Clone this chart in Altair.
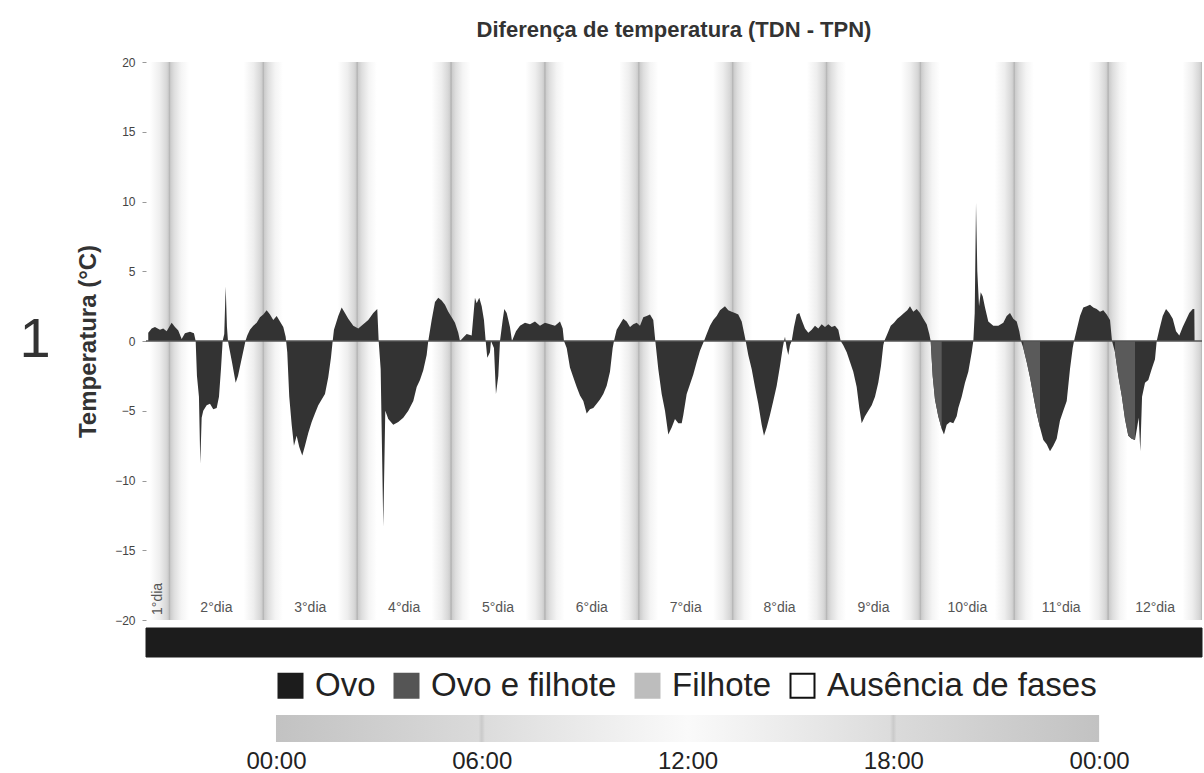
import altair as alt
import pandas as pd

# Diferença TDN - TPN (°C); horas contadas a partir da primeira meia-noite
horas = [
    -5.42, -4.55, -3.71, -2.43, -1.59, -0.72, 0.56, 1.41, 2.25, 3.12, 3.96, 5.24, 6.26, 6.70,
    7.03, 7.54, 7.88, 8.23, 8.64, 9.51, 10.36, 11.20, 12.07, 12.66, 13.17, 13.60,
    14.01, 14.37, 14.70, 14.96, 15.29, 15.98, 16.93, 17.52, 18.28, 19.05, 19.43,
    19.89, 20.58, 21.43, 22.30, 23.14, 23.98, 24.85, 25.70, 26.54, 27.41, 28.25, 29.10, 29.71,
    30.12, 30.63, 31.25, 31.83, 32.52, 33.19, 33.96, 34.65, 35.49, 36.36, 37.20, 38.05, 38.92,
    39.76, 40.60, 41.29, 41.73,
    42.06, 43.16, 44.03, 44.87, 45.72, 47.00, 48.27, 49.55, 50.83, 52.11, 53.13, 53.49,
    54.00, 54.67, 55.18, 55.95, 57.22, 58.50, 59.78, 61.06, 62.34, 63.21, 64.05, 64.89, 65.76, 66.17,
    67.04, 67.89, 68.73, 69.60, 70.44, 71.29, 72.16, 73.00, 73.84, 74.28,
    75.30, 75.99, 77.27, 78.11, 78.55, 79.21, 79.83, 80.41, 80.85, 81.26, 81.95, 82.20,
    82.97, 83.48, 84.07, 84.51, 85.20, 85.61, 86.22, 87.06, 87.57,
    88.60, 89.62, 90.90, 92.18, 93.45, 94.73, 96.01, 97.29, 98.57, 99.85, 100.54, 100.87,
    101.56, 102.40, 103.25, 104.12, 104.96, 105.81, 106.67, 107.52, 108.36, 109.23, 110.07,
    110.92, 111.79, 112.63, 113.32, 113.66,
    114.34, 115.19, 116.03, 116.90, 117.75, 118.59, 119.46, 120.30, 121.15, 122.02, 122.86,
    123.70, 124.22,
    124.98, 125.85, 126.70, 127.54, 128.41, 129.25, 130.10, 130.97, 131.38, 132.24, 133.09,
    133.93, 134.80, 135.64, 136.67,
    137.36, 138.20, 139.04, 139.91, 140.76, 142.03, 142.88, 143.75, 144.59, 145.43, 146.31,
    146.97, 147.33,
    147.99, 148.86, 149.71, 150.55, 151.42, 152.01, 152.70, 153.54, 154.38, 155.26, 156.10,
    156.79, 157.13, 157.38, 157.81, 158.22, 158.66, 159.09,
    159.68, 160.37, 161.03, 161.65, 162.49, 163.34, 164.21, 165.05, 165.89, 166.76, 167.61,
    168.45, 169.32, 170.16, 171.01, 171.62,
    172.28, 173.16, 174.00, 174.84, 175.71, 176.38, 176.99, 177.83, 178.68, 179.55, 180.39,
    181.23, 181.92, 182.51, 182.77,
    183.54, 184.41, 185.25, 186.10, 186.96, 187.81, 188.65, 189.34, 190.18, 191.06, 191.90,
    192.74, 193.61, 194.27, 194.63,
    195.14, 195.73, 196.57, 197.45, 198.03, 198.72, 199.57, 200.41, 201.28, 201.69, 202.56,
    203.40, 204.25, 205.12, 205.53,
    205.89, 206.22, 206.55, 206.99, 207.42, 207.93, 208.52, 209.36, 210.64, 211.92, 213.20,
    214.06, 214.91, 215.75, 216.62, 217.29, 217.72,
    218.31, 219.18, 220.02, 220.87, 221.74, 222.58, 223.43, 224.29, 225.14, 225.98, 226.85,
    227.69, 228.54, 229.41, 230.25, 230.94, 231.28,
    231.96, 232.81, 233.65, 234.52, 235.36, 236.21, 237.08, 237.92, 238.76, 239.63, 240.48, 240.99,
    241.75, 242.60, 243.47, 244.31, 245.16, 246.03, 246.87, 247.82, 248.23, 248.67, 249.43,
    250.27, 251.14, 251.98, 252.42,
    253.08, 253.96, 254.80, 255.64, 256.52, 257.36, 258.20, 259.07, 259.91, 260.75, 261.63,
    262.04, 262.10,
]
diferenca = [
    0.6, 0.9, 1.0, 0.8, 0.9, 0.7, 1.3, 1.0, 0.75, 0.15, 0.55, 0.67, 0.55, 0.0,
    -2.5, -4.0, -8.8, -5.5, -5.0, -4.6, -4.5, -4.9, -4.8, -4.0, -2.0, 0.0,
    0.5, 3.9, 1.0, 0.0, -0.5, -1.5, -3.0, -2.5, -1.5, -0.5, 0.0,
    0.4, 0.8, 1.1, 1.3, 1.7, 1.9, 2.2, 1.9, 1.5, 1.8, 1.4, 1.0, 0.3,
    -0.8, -4.0, -6.0, -7.5, -6.8, -7.6, -8.2, -7.5, -6.6, -5.8, -5.2, -4.6, -4.2,
    -3.8, -2.6, -1.2, 0.0,
    0.8, 1.8, 2.4, 2.0, 1.6, 1.1, 0.9, 1.2, 1.5, 2.0, 2.3, 0.0,
    -2.0, -13.3, -5.0, -5.6, -6.0, -5.8, -5.5, -5.0, -4.3, -3.3, -2.8, -2.1, -1.0, 0.0,
    1.5, 2.8, 3.1, 2.9, 2.6, 2.1, 1.7, 1.3, 0.6, 0.0,
    0.3, 0.5, 0.4, 3.1, 2.7, 3.1, 2.5, 1.5, 0.0, -1.2, -0.8, 0.0,
    -0.5, -3.8, -2.5, 0.0, 1.5, 2.3, 2.0, 1.0, 0.0,
    0.7, 1.1, 1.3, 1.2, 1.4, 1.1, 1.3, 1.2, 1.1, 1.4, 0.9, 0.0,
    -0.5, -1.9, -2.6, -3.3, -3.9, -4.3, -5.2, -4.9, -4.8, -4.5, -4.2,
    -3.8, -3.2, -2.2, -0.5, 0.0,
    0.8, 1.2, 1.6, 1.4, 1.0, 1.2, 1.3, 1.1, 1.7, 1.8, 1.9,
    1.5, 0.0,
    -2.0, -3.8, -5.0, -6.7, -6.2, -5.6, -5.9, -5.9, -5.3, -3.8, -3.1,
    -2.4, -1.5, -0.7, 0.0,
    0.5, 1.1, 1.5, 1.8, 2.2, 2.5, 2.2, 2.1, 2.0, 1.9, 1.4,
    0.5, 0.0,
    -1.0, -2.0, -3.3, -4.5, -6.0, -6.8, -6.2, -5.3, -4.3, -3.2, -1.8,
    -0.5, 0.0, 0.3, -0.5, -1.0, -0.3, 0.0,
    1.0, 1.9, 2.0, 1.5, 0.9, 0.6, 0.8, 1.1, 0.9, 1.2, 1.0,
    1.2, 1.0, 1.1, 0.8, 0.0,
    -0.3, -0.8, -1.5, -2.2, -3.3, -4.8, -5.9, -5.4, -5.0, -4.6, -4.0,
    -3.0, -1.8, -0.3, 0.0,
    0.5, 1.1, 1.3, 1.6, 1.8, 2.0, 2.2, 2.5, 2.1, 2.3, 2.0,
    1.6, 1.2, 0.5, 0.0,
    -2.5, -4.2, -5.4, -6.3, -6.7, -6.0, -5.8, -5.9, -5.4, -4.8, -4.0,
    -3.0, -2.2, -0.8, 0.0,
    2.0, 9.9, 5.0, 2.5, 3.5, 3.2, 2.4, 1.4, 1.1, 1.1, 1.3,
    1.8, 2.0, 1.6, 1.4, 0.7, 0.0,
    -0.5, -1.5, -2.6, -3.9, -5.2, -6.2, -7.1, -7.4, -7.9, -7.5, -7.0,
    -5.7, -5.0, -4.3, -2.0, -0.5, 0.0,
    0.8, 1.8, 2.4, 2.5, 2.6, 2.4, 2.3, 2.1, 2.2, 1.9, 1.5, 0.0,
    -0.8, -2.5, -3.9, -5.6, -6.8, -7.0, -7.1, -5.5, -7.9, -4.0, -3.0,
    -2.8, -2.0, -1.3, 0.0,
    0.8, 1.8, 2.3, 2.0, 1.6, 0.7, 0.4, 1.0, 1.5, 2.0, 2.3,
    2.3, 0.0,
]

# Trechos da série desenhados em tom mais claro (início, fim em horas)
trechos_claros_ini = [194.6, 218.3, 241.7]
trechos_claros_fim = [197.9, 222.6, 247.4]

# Período registrado (horas) e dias de observação
inicio, fim = -6, 264
dias = [f"{n}°dia" for n in range(1, 13)]
meias_noites = list(range(0, 265, 24))

# Fases do ninho
fases = ["Ovo", "Ovo e filhote", "Filhote", "Ausência de fases"]
cores_fases = ["#1c1c1c", "#555555", "#bdbdbd", "#ffffff"]
contorno_fases = ["#1c1c1c", "#555555", "#bdbdbd", "#111111"]
fase_registrada = ["Ovo"]
fase_ini = [-6]
fase_fim = [264]

# Horas do dia na barra de referência
horas_dia = [0, 6, 12, 18, 24]

FONTE = "Liberation Sans, Arial, sans-serif"
W, H = 1056, 558

serie = pd.DataFrame({"hora": horas, "dif": diferenca})
noites = pd.DataFrame({"ini": [m - 5 for m in meias_noites], "fim": [m + 5 for m in meias_noites]})

rot = []
for i, d in enumerate(dias):
    a = max(24 * (i - 1), inicio)
    b = min(24 * i, fim)
    rot.append({"dia": d, "meio": (a + b) / 2, "primeiro": i == 0})
rotulos = pd.DataFrame(rot)

x_sc = alt.Scale(domain=[inicio, fim], nice=False, zero=False)
y_sc = alt.Scale(domain=[-20, 20], nice=False, zero=False)

grad_noite = alt.Gradient(
    gradient="linear", x1=0, x2=1, y1=0, y2=0,
    stops=[
        alt.GradientStop(color="#ffffff", offset=0),
        alt.GradientStop(color="#eeeeee", offset=0.25),
        alt.GradientStop(color="#d8d8d8", offset=0.42),
        alt.GradientStop(color="#cdcdcd", offset=0.47),
        alt.GradientStop(color="#b8b8b8", offset=0.49),
        alt.GradientStop(color="#b8b8b8", offset=0.51),
        alt.GradientStop(color="#cdcdcd", offset=0.53),
        alt.GradientStop(color="#dedede", offset=0.62),
        alt.GradientStop(color="#f4f4f4", offset=0.8),
        alt.GradientStop(color="#ffffff", offset=1),
    ],
)

faixas = alt.Chart(noites).mark_rect(color=grad_noite, clip=True).encode(
    x=alt.X("ini:Q", scale=x_sc, axis=None),
    x2="fim:Q",
)

area = alt.Chart(serie).mark_area(color="#333333", interpolate="linear").encode(
    x=alt.X("hora:Q", scale=x_sc, axis=None),
    y=alt.Y(
        "dif:Q",
        scale=y_sc,
        stack=None,
        title="Temperatura (°C)",
        axis=alt.Axis(
            values=list(range(-20, 21, 5)),
            domain=False,
            grid=False,
            ticks=True,
            tickSize=4,
            tickColor="#999999",
            labelFont=FONTE,
            labelFontSize=12,
            labelColor="#444444",
            labelPadding=7,
            titleFont=FONTE,
            titleFontSize=24,
            titleFontWeight="bold",
            titleColor="#333333",
            titlePadding=14,
        ),
    ),
)

# um trecho claro por camada, cada um com os pontos da própria série
camadas_claras = [
    alt.Chart(serie).transform_filter(
        f"datum.hora >= {a} && datum.hora <= {b}"
    ).mark_area(color="#5a5a5a", interpolate="linear").encode(
        x=alt.X("hora:Q", scale=x_sc, axis=None),
        y=alt.Y("dif:Q", scale=y_sc, stack=None),
    )
    for a, b in zip(trechos_claros_ini, trechos_claros_fim)
]

zero = alt.Chart(pd.DataFrame({"y": [0]})).mark_rule(color="#555555", strokeWidth=1.5).encode(
    y=alt.Y("y:Q", scale=y_sc)
)

rotulos_dias = alt.Chart(rotulos).transform_filter("!datum.primeiro").mark_text(
    font=FONTE, fontSize=14, color="#555555", baseline="middle"
).encode(x=alt.X("meio:Q", scale=x_sc), y=alt.value(546), text="dia:N")

rotulo_dia1 = alt.Chart(rotulos).transform_filter("datum.primeiro").mark_text(
    font=FONTE, fontSize=14, color="#555555", baseline="middle", align="left", angle=270
).encode(x=alt.X("meio:Q", scale=x_sc), y=alt.value(553), text="dia:N")

painel = alt.Chart(pd.DataFrame({"painel": ["1"]})).mark_text(
    font=FONTE, fontSize=56, color="#333333", align="center", baseline="middle"
).encode(x=alt.value(-111), y=alt.value(278), text="painel:N")

principal = alt.layer(
    faixas, area, *camadas_claras, zero, rotulos_dias, rotulo_dia1, painel
).properties(
    width=W,
    height=H,
    title=alt.TitleParams(
        "Diferença de temperatura (TDN - TPN)",
        font=FONTE,
        fontSize=22,
        fontWeight="bold",
        color="#333333",
        anchor="middle",
        frame="group",
        baseline="alphabetic",
        offset=-3,
    ),
)

legenda = alt.Legend(
    title=None,
    orient="none",
    legendX=128,
    legendY=607,
    padding=0,
    direction="horizontal",
    symbolType="square",
    symbolSize=576,
    symbolStrokeWidth=2,
    labelFont=FONTE,
    labelFontSize=33,
    labelColor="#222222",
    labelOffset=8,
    columnPadding=14,
    labelLimit=400,
)

fase_df = pd.DataFrame({"fase": fase_registrada, "ini": fase_ini, "fim": fase_fim})
barra_fases = alt.Chart(fase_df).mark_rect(strokeWidth=1).encode(
    x=alt.X("ini:Q", scale=x_sc, axis=None),
    x2="fim:Q",
    fill=alt.Fill("fase:N", scale=alt.Scale(domain=fases, range=cores_fases), legend=legenda),
    stroke=alt.Stroke("fase:N", scale=alt.Scale(domain=fases, range=contorno_fases), legend=legenda),
).properties(width=W, height=29)

# faixa vazia entre a barra de fases e a barra das horas (ocupada pela legenda)
vazio = alt.Chart(pd.DataFrame({"v": [0]})).mark_rect(opacity=0).encode(
    x=alt.value(0)
).properties(width=W, height=42)

grad_dia = alt.Gradient(
    gradient="linear", x1=0, x2=1, y1=0, y2=0,
    stops=[
        alt.GradientStop(color="#c2c2c2", offset=0),
        alt.GradientStop(color="#dadada", offset=0.246),
        alt.GradientStop(color="#cacaca", offset=0.25),
        alt.GradientStop(color="#dcdcdc", offset=0.254),
        alt.GradientStop(color="#fafafa", offset=0.5),
        alt.GradientStop(color="#dcdcdc", offset=0.746),
        alt.GradientStop(color="#cacaca", offset=0.75),
        alt.GradientStop(color="#dadada", offset=0.754),
        alt.GradientStop(color="#c2c2c2", offset=1),
    ],
)

barra_dia = alt.Chart(pd.DataFrame({"ini": [horas_dia[0]], "fim": [horas_dia[-1]]})).mark_rect(
    color=grad_dia
).encode(
    x=alt.X(
        "ini:Q",
        scale=alt.Scale(domain=[-3.79, 27.0], nice=False, zero=False),
        axis=alt.Axis(
            values=horas_dia,
            labelExpr="(datum.value % 24 < 10 ? '0' : '') + (datum.value % 24) + ':00'",
            domain=False,
            ticks=False,
            grid=False,
            labelFont=FONTE,
            labelFontSize=24,
            labelColor="#222222",
            labelPadding=7,
            title=None,
        ),
    ),
    x2="fim:Q",
).properties(width=W, height=27)

chart = alt.vconcat(principal, barra_fases, vazio, barra_dia, spacing=8, bounds="flush").properties(
    autosize=alt.AutoSizeParams(type="none"),
    padding={"left": 146, "top": 62, "right": 2, "bottom": 711},
    background="white",
).configure_view(strokeWidth=0, stroke="transparent")

chart.save("out.html", embed_options={"renderer": "svg", "actions": False})
